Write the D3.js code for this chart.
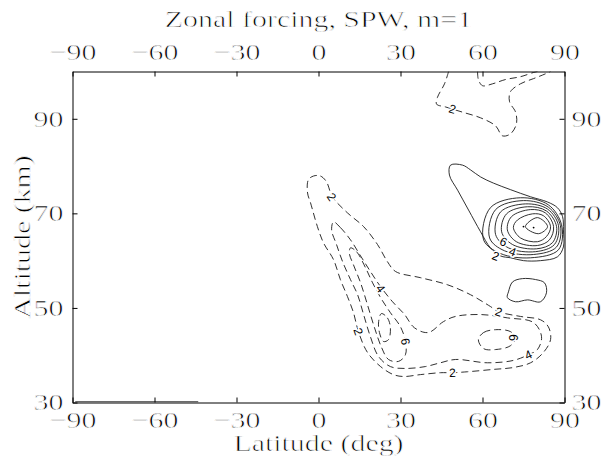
<!DOCTYPE html>
<head>
  <meta charset="utf-8">
  <script src="https://d3js.org/d3.v7.min.js"></script>
  <style>
    body { margin:0; background:#fff; }
    .axis text, .title { font-family: "Liberation Serif", serif; font-size: 23px; fill: #000;
                         stroke: #fff; stroke-width: 0.7px; }
    .axis path, .axis line { stroke: #000; stroke-width: 1; }
    .contour { fill: none; stroke: #1a1a1a; stroke-width: 0.9; }
    .contour.neg { stroke-dasharray: 7,4; }
    .clabel { font-family: "Liberation Sans", sans-serif; font-size: 12px; fill: #000;
              stroke: #fff; stroke-width: 3px; paint-order: stroke; }
  </style>
</head>
<body>
<script>
// axes
var latTicks = [-90, -60, -30, 0, 30, 60, 90];
var altTicks = [30, 50, 70, 90];
var latDomain = [-90, 90];
var altDomain = [30, 100];

// positive forcing (solid), points are [latitude, altitude km]
var posLobe = [[48.3,80.2],[52.7,80.2],[55.6,79.2],[59.3,77.7],[64.0,76.4],[70.3,75.0],[77.6,73.5],[83.8,72.4],[87.4,71.2],[89.3,69.3],[89.6,66.5],[89.6,62.9],[87.4,60.8],[81.2,60.0],[75.0,60.0],[70.3,60.6],[66.6,61.0],[62.9,62.7],[59.3,66.1],[54.9,70.7],[50.9,74.9],[47.9,78.1]];
var posRing2 = [[60.4,64.4],[62.9,71.2],[73.9,73.3],[84.1,71.8],[88.9,67.6],[87.8,62.3],[77.6,60.6],[66.6,61.5]];
var posRing4 = [[62.6,64.8],[64.8,70.8],[75.0,72.7],[84.1,71.3],[88.5,67.4],[87.1,62.9],[78.7,61.3],[68.0,62.1]];
var posRing6 = [[64.8,65.5],[66.6,70.3],[75.7,72.0],[83.8,70.9],[87.8,67.4],[86.3,63.4],[79.4,61.9],[69.5,62.7]];
var posRing8 = [[67.0,66.1],[68.8,69.9],[76.5,71.4],[83.4,70.5],[87.1,67.2],[85.6,63.8],[79.8,62.5],[71.0,63.4]];
var posRing10 = [[69.1,66.5],[70.6,69.3],[77.6,70.8],[83.0,70.1],[86.0,67.2],[84.5,64.4],[80.1,63.2],[72.4,64.0]];
var posRing12 = [[71.3,67.0],[72.8,68.6],[78.3,69.9],[82.3,69.5],[84.9,67.2],[83.4,65.1],[80.1,64.0],[73.9,64.8]];
var posRing14 = [[75.7,67.2],[80.1,69.1],[83.8,67.2],[80.5,65.7]];
var posBlob = [[69.5,53.4],[71.0,55.5],[74.6,56.2],[79.4,56.0],[82.7,55.3],[83.4,53.2],[81.2,51.3],[76.5,51.7],[72.1,51.3],[69.1,52.2]];
var floorTrace = [[-89.0,30.15],[-44.0,30.15]];
var peakDots = [[78.7,67.0],[75.0,67.2]];

// negative forcing (dashed)
var negTop2 = [[47.6,100],[46.1,97.4],[43.5,94.5],[43.2,93.1],[46.5,92.5],[52.7,91.4],[59.3,90.2],[64.8,88.5],[67.3,86.4],[70.2,86.8],[72.4,88.9],[72.1,91.4],[69.9,93.6],[70.2,95.7],[73.9,97.4],[78.7,98.5],[83.0,99.5],[84.9,100]];
var negTop4 = [[58.2,100],[58.5,98.3],[60.0,97.0],[63.7,97.4],[68.4,98.3],[73.9,98.9],[78.7,99.8],[80.1,100]];
var negLow2 = [[-1.8,77.9],[0.7,77.9],[2.9,76.7],[5.1,73.5],[10.6,70.1],[16.5,67.2],[21.6,63.4],[25.2,59.8],[28.2,57.7],[37.3,56.4],[47.2,54.9],[55.6,52.8],[62.9,50.3],[65.9,49.2],[73.9,48.2],[81.2,47.5],[84.1,46.0],[84.9,43.3],[82.3,40.6],[77.6,38.4],[71.3,37.4],[64.0,37.0],[54.5,36.5],[49.0,36.3],[44.6,36.3],[37.3,35.9],[31.1,35.5],[27.4,35.9],[22.7,37.6],[17.9,40.6],[14.6,45.0],[12.8,49.0],[10.6,52.4],[8.0,56.0],[5.5,60.2],[1.8,63.8],[-0.4,67.2],[-2.9,72.2],[-4.0,74.3],[-3.7,77.1]];
var negLow4 = [[5.5,68.2],[8.0,67.0],[11.7,64.4],[15.4,61.0],[19.0,57.7],[22.7,54.5],[27.1,51.3],[31.5,48.6],[35.1,45.8],[40.2,44.8],[45.7,47.1],[50.1,48.2],[59.3,48.6],[69.1,47.9],[78.7,46.9],[81.6,43.9],[80.1,41.2],[76.8,40.1],[71.3,38.9],[61.8,38.4],[50.1,39.1],[44.6,38.4],[39.1,37.6],[31.8,37.2],[26.3,37.6],[22.0,39.7],[19.0,43.9],[16.5,48.6],[14.3,52.8],[11.7,56.0],[8.8,59.8],[6.6,63.4],[4.8,66.5]];
var negLow6 = [[11.7,62.7],[13.9,61.9],[17.2,58.5],[19.8,55.3],[22.7,52.2],[26.3,49.0],[30.0,46.0],[31.8,42.9],[31.8,40.1],[29.3,38.7],[25.6,39.1],[23.1,41.6],[20.5,45.8],[17.9,50.7],[15.4,55.3],[12.8,59.1],[11.3,61.5]];
var negLow8 = [[23.0,48.8],[25.2,47.9],[26.3,45.8],[25.6,43.3],[23.8,42.9],[22.3,44.8],[22.0,47.1]];
var negArm6 = [[58.5,43.3],[60.4,44.8],[64.8,45.4],[70.2,45.0],[72.1,43.7],[70.2,42.0],[64.8,41.2],[60.4,41.4]];

// contour labels: [latitude, altitude, level]
var contourLabels = [
  [64.8,61.0,2],[71.0,61.9,4],[67.7,64.0,6],
  [4.8,73.5,-2],[14.6,45.0,-2],[65.9,49.2,-2],[49.0,36.3,-2],[49.0,92.1,-2],
  [22.7,54.1,-4],[76.8,40.1,-4],
  [31.8,42.9,-6],[71.3,43.7,-6]
];

var contours = [
  {level: 1, closed: true, pts: posLobe},
  {level: 2, closed: true, pts: posRing2},
  {level: 4, closed: true, pts: posRing4},
  {level: 6, closed: true, pts: posRing6},
  {level: 8, closed: true, pts: posRing8},
  {level: 10, closed: true, pts: posRing10},
  {level: 12, closed: true, pts: posRing12},
  {level: 14, closed: true, pts: posRing14},
  {level: 1, closed: true, pts: posBlob},
  {level: 1, closed: false, pts: floorTrace},
  {level: -2, closed: false, pts: negTop2},
  {level: -4, closed: false, pts: negTop4},
  {level: -2, closed: true, pts: negLow2},
  {level: -4, closed: true, pts: negLow4},
  {level: -6, closed: true, pts: negLow6},
  {level: -8, closed: true, pts: negLow8},
  {level: -6, closed: true, pts: negArm6}
];

var margin = {top: 71.5, right: 36.5, bottom: 56.5, left: 72.5};
var width = 601 - margin.left - margin.right,
    height = 459 - margin.top - margin.bottom;

var svg = d3.select("body").append("svg")
    .attr("width", 601)
    .attr("height", 459);

var g = svg.append("g")
    .attr("transform", "translate(" + margin.left + "," + margin.top + ")");

var x = d3.scaleLinear().domain(latDomain).range([0, width]);
var y = d3.scaleLinear().domain(altDomain).range([height, 0]);

g.append("clipPath").attr("id", "plot")
  .append("rect").attr("width", width).attr("height", height);

var lineClosed = d3.line().x(function(d){return x(d[0]);}).y(function(d){return y(d[1]);})
    .curve(d3.curveCatmullRomClosed.alpha(0.5));
var lineOpen = d3.line().x(function(d){return x(d[0]);}).y(function(d){return y(d[1]);})
    .curve(d3.curveCatmullRom.alpha(0.5));

var plot = g.append("g").attr("clip-path", "url(#plot)");

plot.selectAll(".contour")
  .data(contours)
  .enter().append("path")
  .attr("class", function(d){ return d.level < 0 ? "contour neg" : "contour"; })
  .attr("d", function(d){ return d.closed ? lineClosed(d.pts) : lineOpen(d.pts); });

plot.selectAll(".peak")
  .data(peakDots)
  .enter().append("circle")
  .attr("cx", function(d){return x(d[0]);})
  .attr("cy", function(d){return y(d[1]);})
  .attr("r", 0.9)
  .attr("fill", "#000");

// label angle follows the local direction of the nearest contour of that level
function labelAngle(lab) {
  var best = null, bestDist = Infinity;
  contours.forEach(function(c) {
    if (c.level !== lab[2]) return;
    c.pts.forEach(function(p, i) {
      var dx = x(p[0]) - x(lab[0]), dy = y(p[1]) - y(lab[1]);
      var dd = dx*dx + dy*dy;
      if (dd < bestDist) { bestDist = dd; best = {c: c, i: i}; }
    });
  });
  var pts = best.c.pts, n = pts.length;
  var a = pts[best.c.closed ? (best.i - 1 + n) % n : Math.max(best.i - 1, 0)];
  var b = pts[best.c.closed ? (best.i + 1) % n : Math.min(best.i + 1, n - 1)];
  var ang = Math.atan2(y(b[1]) - y(a[1]), x(b[0]) - x(a[0])) * 180 / Math.PI;
  if (ang > 90) ang -= 180;
  if (ang < -90) ang += 180;
  return ang;
}

g.selectAll(".clabel")
  .data(contourLabels)
  .enter().append("text")
  .attr("class", "clabel")
  .attr("text-anchor", "middle")
  .attr("dy", "0.35em")
  .attr("transform", function(d){
    return "translate(" + x(d[0]) + "," + y(d[1]) + ") rotate(" + labelAngle(d) + ")";
  })
  .text(function(d){ return Math.abs(d[2]); });

// frame with inward ticks on all four sides
g.append("g").attr("class", "axis")
  .attr("transform", "translate(0," + height + ")")
  .call(d3.axisBottom(x).tickValues(latTicks).tickSize(-5).tickSizeOuter(0).tickPadding(9));
g.append("g").attr("class", "axis")
  .call(d3.axisTop(x).tickValues(latTicks).tickSize(-5).tickSizeOuter(0).tickPadding(12));
g.append("g").attr("class", "axis")
  .call(d3.axisLeft(y).tickValues(altTicks).tickSize(-5).tickSizeOuter(0).tickPadding(9));
g.append("g").attr("class", "axis")
  .attr("transform", "translate(" + width + ",0)")
  .call(d3.axisRight(y).tickValues(altTicks).tickSize(-5).tickSizeOuter(0).tickPadding(7));

svg.append("text").attr("class", "title")
  .attr("x", margin.left + width/2).attr("y", 27)
  .attr("text-anchor", "middle")
  .text("Zonal forcing, SPW, m=1");

svg.append("text").attr("class", "title")
  .attr("x", margin.left + width/2).attr("y", 451)
  .attr("text-anchor", "middle")
  .text("Latitude (deg)");

svg.append("text").attr("class", "title")
  .attr("transform", "translate(30," + (margin.top + height/2) + ") rotate(-90)")
  .attr("text-anchor", "middle")
  .text("Altitude (km)");

// the plotting font is wide and light, stretch the serif glyphs to suit
svg.selectAll(".axis text, .title").each(function() {
  var w = this.getComputedTextLength();
  d3.select(this).attr("textLength", w * 1.3).attr("lengthAdjust", "spacingAndGlyphs");
});
</script>
</body>
